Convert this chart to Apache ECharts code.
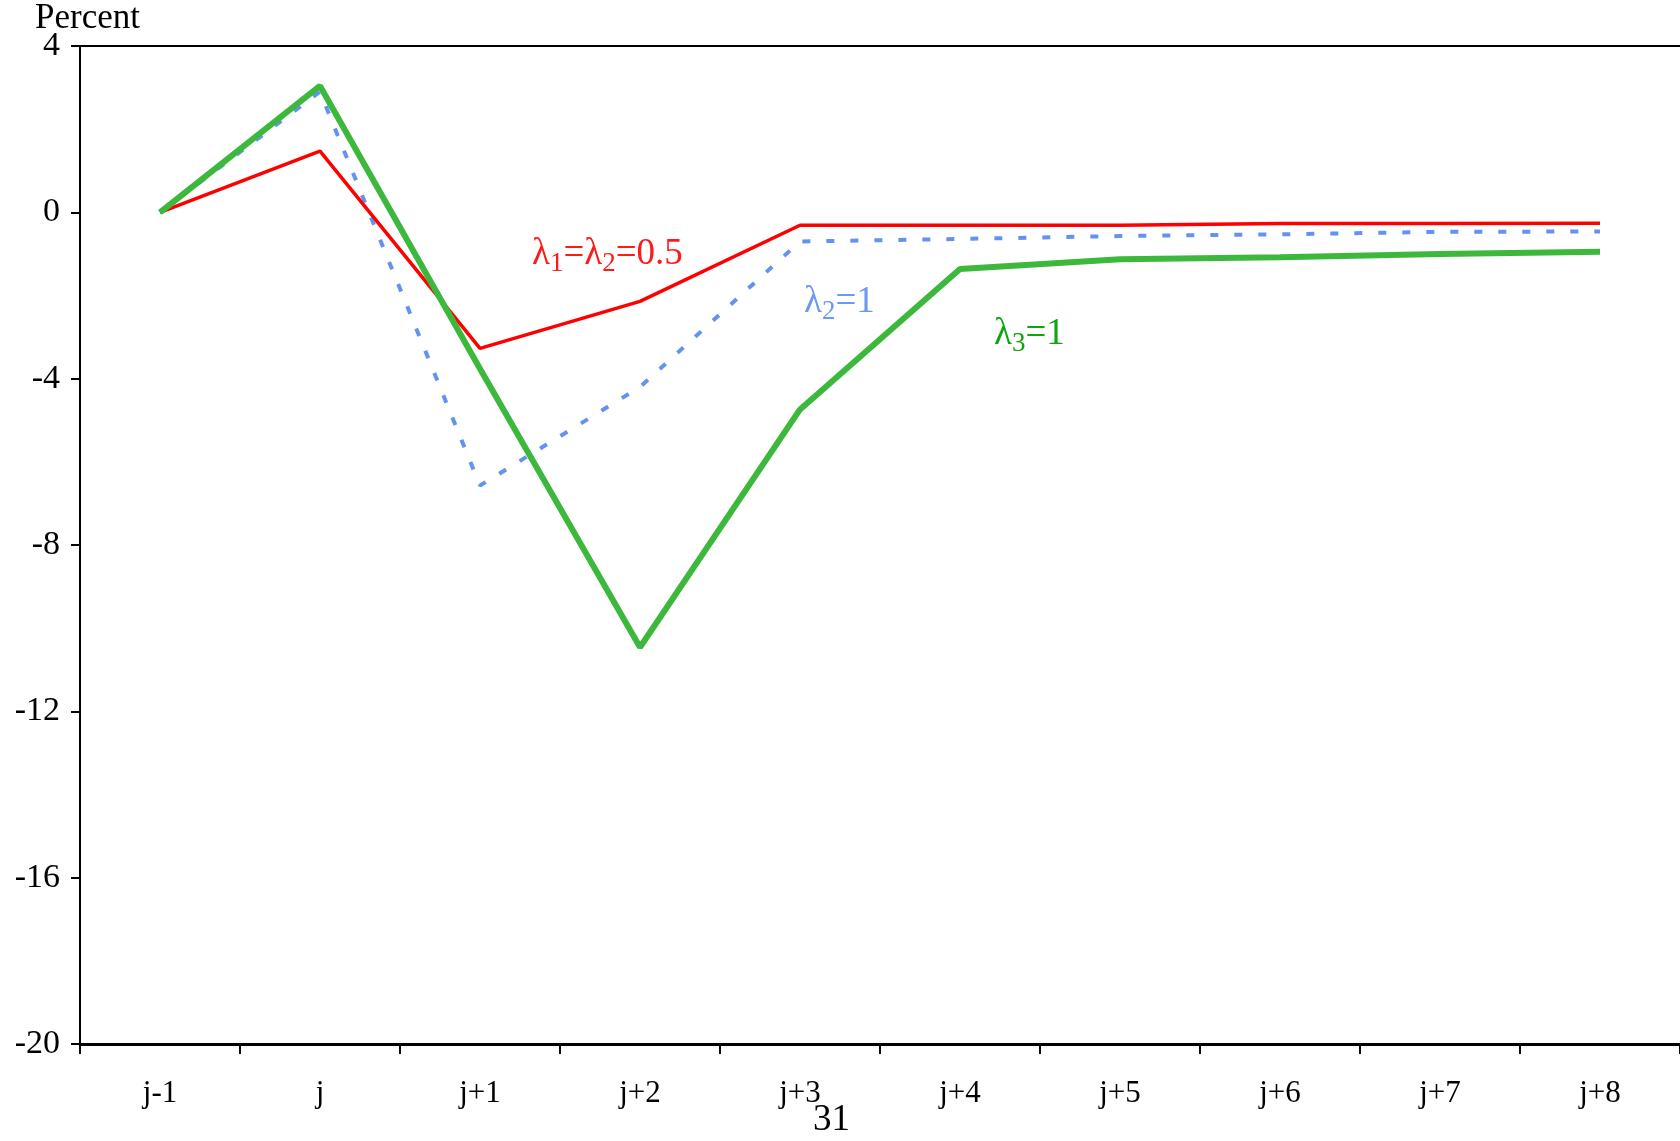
<!DOCTYPE html>
<html>
	<head>
		<meta charset="utf-8">
		<title>Percent</title>
		<script src="https://cdn.jsdelivr.net/npm/echarts@6/dist/echarts.min.js"></script>
		<style>
			html, body { margin: 0; padding: 0; background: #fff; }
		</style>
	</head>
	<body>
		<div id="box" style="width: 1680px;height: 1141px;"></div>
		<script>
			// data
			var periods = ['j-1', 'j', 'j+1', 'j+2', 'j+3', 'j+4', 'j+5', 'j+6', 'j+7', 'j+8']
			var redHalf = [0, 1.47, -3.27, -2.14, -0.31, -0.31, -0.31, -0.27, -0.27, -0.26]
			var blueL2 = [0, 2.9, -6.57, -4.2, -0.7, -0.64, -0.57, -0.53, -0.47, -0.46]
			var greenL3 = [0, 3.04, -3.76, -10.46, -4.74, -1.36, -1.13, -1.08, -1.0, -0.95]

			var serif = '"Liberation Serif", "DejaVu Serif", serif'
			var mCharts = echarts.init(document.querySelector('#box'))

			var option = {
				animation: false,
				backgroundColor: '#fff',
				grid: { left: 80, right: 0, top: 46, bottom: 97 },
				xAxis: [
					{
						type: 'category',
						data: periods,
						boundaryGap: true,
						axisLine: { onZero: false, lineStyle: { color: '#000', width: 3 } },
						axisTick: { show: true, length: 10, lineStyle: { color: '#000', width: 2 } },
						axisLabel: { color: '#000', fontFamily: serif, fontSize: 31, margin: 34 }
					},
					{
						// top frame line only
						type: 'category',
						position: 'top',
						data: periods,
						axisLine: { onZero: false, lineStyle: { color: '#000', width: 2 } },
						axisTick: { show: false },
						axisLabel: { show: false }
					}
				],
				yAxis: {
					type: 'value',
					min: -20,
					max: 4,
					interval: 4,
					splitLine: { show: false },
					axisLine: { show: true, onZero: false, lineStyle: { color: '#000', width: 2 } },
					axisTick: { show: true, length: 9, lineStyle: { color: '#000', width: 2 } },
					axisLabel: { color: '#000', fontFamily: serif, fontSize: 34, margin: 20 }
				},
				series: [
					{
						name: 'half',
						type: 'line',
						data: redHalf,
						symbol: 'none',
						lineStyle: { color: '#ff0000', width: 3.5 },
						z: 3
					},
					{
						name: 'l2',
						type: 'line',
						data: blueL2,
						symbol: 'none',
						lineStyle: { color: '#6392f2', width: 4, type: [8, 16] },
						z: 2
					},
					{
						name: 'l3',
						type: 'line',
						data: greenL3,
						symbol: 'none',
						lineStyle: { color: '#3cb83c', width: 6 },
						z: 4
					}
				],
				graphic: [
					{
						type: 'text', left: 35, top: 1,
						style: { text: 'Percent', fill: '#000', font: '35px ' + serif }
					},
					{
						type: 'text', left: 813, top: 1102,
						style: { text: '31', fill: '#000', font: '37px ' + serif }
					},
					{
						type: 'text', left: 532, top: 236,
						style: {
							text: '{a|λ}{s|1}{a|=λ}{s|2}{a|=0.5}',
							rich: {
								a: { fontFamily: serif, fontSize: 37, fill: '#ff1a1a' },
								s: { fontFamily: serif, fontSize: 27, fill: '#ff1a1a', padding: [18, 0, 0, 0] }
							}
						}
					},
					{
						type: 'text', left: 804, top: 284,
						style: {
							text: '{a|λ}{s|2}{a|=1}',
							rich: {
								a: { fontFamily: serif, fontSize: 37, fill: '#6b98f0' },
								s: { fontFamily: serif, fontSize: 27, fill: '#6b98f0', padding: [18, 0, 0, 0] }
							}
						}
					},
					{
						type: 'text', left: 994, top: 316,
						style: {
							text: '{a|λ}{s|3}{a|=1}',
							rich: {
								a: { fontFamily: serif, fontSize: 37, fill: '#10a510' },
								s: { fontFamily: serif, fontSize: 27, fill: '#10a510', padding: [18, 0, 0, 0] }
							}
						}
					}
				]
			}
			mCharts.setOption(option)
		</script>
	</body>
</html>
